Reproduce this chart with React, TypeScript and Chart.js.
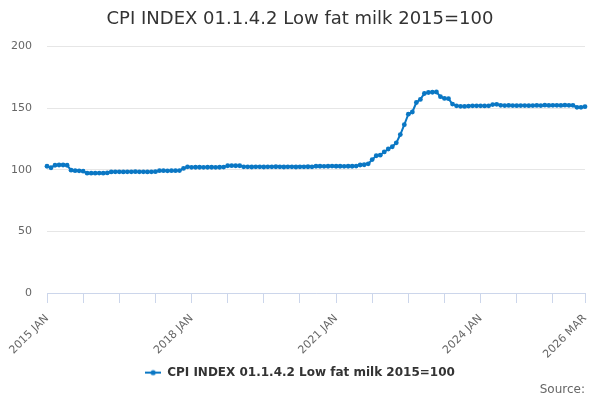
import React, { useEffect, useRef } from 'react';
import { Chart, registerables } from 'chart.js';

Chart.register(...registerables);

const MONTH_NAMES = ['JAN', 'FEB', 'MAR', 'APR', 'MAY', 'JUN', 'JUL', 'AUG', 'SEP', 'OCT', 'NOV', 'DEC'];
const FIRST_YEAR = 2015;
const LAST_YEAR = 2026;
const LAST_MONTH = 'MAR';

const categories: string[] = [];
for (let y = FIRST_YEAR; y <= LAST_YEAR; y++) {
  for (const m of MONTH_NAMES) {
    categories.push(`${y} ${m}`);
    if (y === LAST_YEAR && m === LAST_MONTH) break;
  }
}

const seriesName = 'CPI INDEX 01.1.4.2 Low fat milk 2015=100';

const values: number[] = [
  // 2015
  102.8, 101.6, 103.6, 103.8, 103.8, 103.6, 99.6, 99.2, 99.1, 98.8, 97.2, 97.2,
  // 2016
  97.2, 97.3, 97.2, 97.4, 98.2, 98.3, 98.3, 98.2, 98.3, 98.3, 98.4, 98.3,
  // 2017
  98.3, 98.2, 98.3, 98.4, 99.2, 99.2, 99.1, 99.2, 99.2, 99.3, 101.0, 102.3,
  // 2018
  101.9, 102.0, 102.0, 101.9, 102.0, 102.0, 101.9, 102.0, 102.1, 103.2, 103.3, 103.2,
  // 2019
  103.2, 102.3, 102.3, 102.2, 102.3, 102.3, 102.2, 102.3, 102.3, 102.4, 102.3, 102.2,
  // 2020
  102.3, 102.3, 102.2, 102.3, 102.3, 102.4, 102.3, 102.8, 102.8, 102.7, 102.8, 102.9,
  // 2021
  102.8, 102.8, 102.7, 102.8, 102.8, 102.9, 103.8, 104.0, 104.8, 108.2, 111.3, 111.8,
  // 2022
  114.4, 116.8, 118.6, 121.8, 128.5, 136.5, 145.0, 146.8, 154.5, 157.0, 161.8, 162.6,
  // 2023
  162.8, 163.0, 159.2, 157.8, 157.6, 153.2, 151.8, 151.4, 151.3, 151.6, 151.8, 151.8,
  // 2024
  151.8, 151.7, 151.8, 152.8, 153.0, 152.2, 152.0, 152.1, 152.0, 151.9, 152.0, 152.0,
  // 2025
  151.9, 152.0, 152.1, 152.0, 152.3, 152.1, 152.2, 152.2, 152.1, 152.3, 152.2, 152.2,
  // 2026
  150.6, 150.6, 151.1,
];

const shownTickLabels = ['2015 JAN', '2018 JAN', '2021 JAN', '2024 JAN', '2026 MAR'];
const tickMarkStep = 9;

const yMin = 0;
const yMax = 200;
const yStep = 50;

const LINE_COLOR = '#0a77c4';

function makeLegendSymbol(): HTMLCanvasElement {
  const c = document.createElement('canvas');
  c.width = 16;
  c.height = 8;
  const ctx = c.getContext('2d')!;
  ctx.strokeStyle = LINE_COLOR;
  ctx.lineWidth = 2;
  ctx.beginPath();
  ctx.moveTo(0, 4);
  ctx.lineTo(16, 4);
  ctx.stroke();
  ctx.fillStyle = LINE_COLOR;
  ctx.beginPath();
  ctx.arc(8, 4, 2.6, 0, Math.PI * 2);
  ctx.fill();
  return c;
}

export default function App() {
  const canvasRef = useRef<HTMLCanvasElement | null>(null);

  useEffect(() => {
    if (!canvasRef.current) return;
    Chart.defaults.font.family = '"DejaVu Sans", sans-serif';

    const markIdx: number[] = [];
    for (let i = 0; i < categories.length - 1; i += tickMarkStep) markIdx.push(i);
    markIdx.push(categories.length - 1);

    const chart = new Chart(canvasRef.current, {
      type: 'line',
      data: {
        labels: categories,
        datasets: [
          {
            label: seriesName,
            data: values,
            borderColor: LINE_COLOR,
            backgroundColor: LINE_COLOR,
            borderWidth: 2,
            pointRadius: 2.4,
            pointBorderWidth: 0,
            pointBackgroundColor: LINE_COLOR,
            tension: 0,
          },
        ],
      },
      options: {
        animation: false,
        responsive: false,
        maintainAspectRatio: false,
        layout: { padding: 0 },
        plugins: {
          title: {
            display: true,
            text: seriesName,
            color: '#333333',
            font: { size: 18, weight: 'normal' },
            padding: { top: 9, bottom: 15.8 },
          },
          subtitle: {
            display: true,
            text: 'Source:',
            position: 'bottom',
            align: 'end',
            fullSize: false,
            color: '#666666',
            font: { size: 12, weight: 'normal' },
            padding: { top: -6, bottom: 3 },
          },
          legend: {
            display: true,
            position: 'bottom',
            labels: {
              usePointStyle: true,
              pointStyle: makeLegendSymbol(),
              pointStyleWidth: 16,
              color: '#333333',
              font: { size: 12, weight: 'bold' },
              padding: 6,
            },
          },
          tooltip: { enabled: false },
        },
        scales: {
          x: {
            type: 'category',
            offset: false,
            grid: {
              display: true,
              drawOnChartArea: false,
              drawTicks: true,
              tickLength: 10,
              color: '#ccd6eb',
            },
            border: { display: true, color: '#ccd6eb', width: 1 },
            afterBuildTicks: (scale: any) => {
              scale.ticks = markIdx.map((v) => ({ value: v }));
            },
            afterFit: (scale: any) => {
              scale.height = 67.6;
              scale.paddingRight = 15;
              scale.paddingLeft = 0;
            },
            ticks: {
              autoSkip: false,
              minRotation: 45,
              maxRotation: 45,
              padding: 9,
              color: '#666666',
              font: { size: 11 },
              callback: (value: any) => {
                const lab = categories[Number(value)];
                return shownTickLabels.includes(lab) ? lab : '';
              },
            },
          },
          y: {
            min: yMin,
            max: yMax,
            grid: { color: '#e6e6e6', drawTicks: false },
            border: { display: false },
            afterFit: (scale: any) => {
              scale.width = 47;
            },
            ticks: {
              stepSize: yStep,
              padding: 15,
              color: '#666666',
              font: { size: 11 },
            },
          },
        },
      },
    });
    return () => chart.destroy();
  }, []);

  return (
    <div style={{ position: 'fixed', left: 0, top: 0, width: 600, height: 400, background: '#ffffff' }}>
      <canvas ref={canvasRef} width={600} height={400} style={{ width: 600, height: 400 }} />
    </div>
  );
}
